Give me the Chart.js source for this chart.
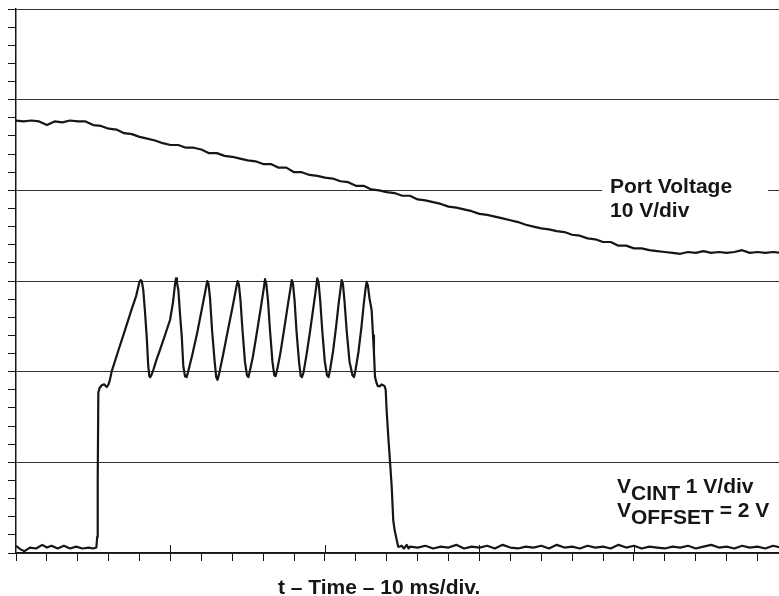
<!DOCTYPE html>
<html><head><meta charset="utf-8">
<script src="https://cdn.jsdelivr.net/npm/chart.js@4"></script>
<style>html,body{margin:0;padding:0;background:#fff}canvas{display:block}</style>
</head><body>
<canvas id="c" width="779" height="596"></canvas>
<script>
// time in ms (10 ms/div), values in screen divisions (0 = bottom graticule line)
const portTimes = [0,0.5,1,1.5,2,2.5,3,3.5,4,4.5,5,5.5,6,6.5,7,7.5,8,8.5,9,9.5,10,10.5,11,11.5,12,12.5,13,13.5,14,14.5,15,15.5,16,16.5,17,17.5,18,18.5,19,19.5,20,20.5,21,21.5,22,22.5,23,23.5,24,24.5,25,25.5,26,26.5,27,27.5,28,28.5,29,29.5,30,30.5,31,31.5,32,32.5,33,33.5,34,34.5,35,35.5,36,36.5,37,37.5,38,38.5,39,39.5,40,40.5,41,41.5,42,42.5,43,43.5,44,44.5,45,45.5,46,46.5,47,47.5,48,48.5,49,49.5];
const portValues = [4.77,4.76,4.77,4.76,4.72,4.76,4.75,4.77,4.76,4.76,4.72,4.71,4.68,4.67,4.63,4.62,4.59,4.57,4.55,4.52,4.50,4.50,4.47,4.47,4.45,4.41,4.41,4.38,4.37,4.35,4.33,4.32,4.29,4.29,4.25,4.25,4.20,4.20,4.17,4.16,4.14,4.13,4.10,4.09,4.05,4.05,4.01,4.00,3.98,3.97,3.94,3.94,3.90,3.89,3.87,3.85,3.82,3.81,3.79,3.77,3.74,3.73,3.71,3.69,3.67,3.65,3.62,3.60,3.58,3.57,3.55,3.54,3.51,3.50,3.47,3.46,3.43,3.43,3.39,3.39,3.36,3.36,3.34,3.33,3.32,3.31,3.30,3.32,3.31,3.33,3.31,3.32,3.31,3.32,3.34,3.31,3.32,3.31,3.32,3.31];

const cintTimes = [0.00,0.30,0.55,0.90,1.30,1.70,2.00,2.30,2.70,3.10,3.50,3.90,4.30,4.70,5.00,5.20,5.26,5.29,5.33,5.41,5.55,5.70,5.87,5.99,6.08,6.19,6.60,7.06,7.51,7.77,7.99,8.07,8.14,8.24,8.35,8.46,8.56,8.63,8.69,8.76,8.89,9.09,9.32,9.64,9.97,10.16,10.29,10.36,10.42,10.51,10.62,10.73,10.83,10.94,11.04,11.13,11.39,11.72,12.04,12.27,12.38,12.46,12.56,12.69,12.85,12.96,13.04,13.14,13.40,13.72,14.05,14.26,14.35,14.43,14.53,14.66,14.82,14.95,15.04,15.13,15.34,15.60,15.86,16.04,16.12,16.20,16.31,16.44,16.60,16.72,16.80,16.89,17.09,17.35,17.61,17.77,17.85,17.93,18.03,18.16,18.32,18.43,18.51,18.61,18.80,19.03,19.26,19.43,19.50,19.59,19.69,19.83,19.99,20.13,20.23,20.32,20.52,20.71,20.89,21.02,21.08,21.16,21.26,21.41,21.59,21.78,21.88,21.97,22.17,22.36,22.52,22.63,22.70,22.78,22.88,23.02,23.11,23.17,23.24,23.35,23.43,23.56,23.66,23.77,23.86,23.93,23.99,24.10,24.21,24.32,24.42,24.51,24.60,24.74,24.85,24.96,25.11,25.29,25.41,25.50,26.0,26.5,27.0,27.5,28.0,28.5,29.0,29.5,30.0,30.5,31.0,31.5,32.0,32.5,33.0,33.5,34.0,34.5,35.0,35.5,36.0,36.5,37.0,37.5,38.0,38.5,39.0,39.5,40.0,40.5,41.0,41.5,42.0,42.5,43.0,43.5,44.0,44.5,45.0,45.5,46.0,46.5,47.0,47.5,48.0,48.5,49.0,49.5];
const cintValues = [0.08,0.04,0.02,0.06,0.05,0.09,0.06,0.08,0.05,0.08,0.05,0.07,0.05,0.06,0.05,0.06,0.18,0.81,1.77,1.82,1.85,1.86,1.83,1.86,1.91,2.00,2.22,2.46,2.70,2.83,2.99,3.01,3.00,2.90,2.66,2.39,2.06,1.95,1.94,1.96,2.02,2.13,2.24,2.40,2.57,2.76,2.96,3.03,2.98,2.90,2.63,2.39,2.06,1.95,1.94,1.99,2.17,2.42,2.70,2.90,3.00,2.97,2.81,2.46,2.13,1.94,1.91,1.97,2.18,2.46,2.74,2.93,3.00,2.96,2.79,2.46,2.11,1.96,1.94,2.00,2.17,2.44,2.72,2.92,3.02,2.97,2.79,2.46,2.11,1.96,1.95,2.01,2.18,2.46,2.75,2.92,3.01,2.97,2.79,2.44,2.11,1.95,1.94,1.99,2.18,2.44,2.72,2.93,3.03,2.98,2.79,2.44,2.11,1.96,1.94,2.01,2.22,2.48,2.76,2.93,3.01,2.97,2.79,2.44,2.11,1.96,1.94,2.01,2.22,2.49,2.76,2.92,2.99,2.95,2.81,2.68,2.40,2.21,1.94,1.87,1.84,1.84,1.86,1.85,1.84,1.80,1.58,1.28,1.01,0.73,0.36,0.25,0.18,0.07,0.07,0.08,0.05,0.09,0.05,0.07,0.06,0.08,0.05,0.07,0.06,0.09,0.05,0.07,0.06,0.08,0.05,0.09,0.06,0.05,0.07,0.06,0.08,0.05,0.09,0.06,0.07,0.05,0.08,0.06,0.07,0.05,0.09,0.06,0.08,0.05,0.07,0.06,0.05,0.07,0.06,0.08,0.05,0.07,0.09,0.06,0.07,0.05,0.08,0.06,0.07,0.05,0.08,0.06];

const xMajorTicks = [10, 20, 30, 40];
const portLabel = ['Port Voltage', '10 V/div'];
const cintLabel = [['V', 'CINT', ' 1 V/div'], ['V', 'OFFSET', ' = 2 V']];
const xTitle = 't \u2013 Time \u2013 10 ms/div.';

const toPoints = (ts, vs) => ts.map((t, i) => ({x: t, y: vs[i]}));
const INK = '#161616';
const FONT = 'bold 21px "Liberation Sans", Arial, sans-serif';

const annot = {
  id: 'annot',
  afterDraw(chart) {
    const ctx = chart.ctx, xs = chart.scales.x, ys = chart.scales.y, ca = chart.chartArea;
    ctx.save();
    // inward extension of major time ticks
    ctx.strokeStyle = INK; ctx.lineWidth = 1;
    xMajorTicks.forEach(v => {
      const px = Math.round(xs.getPixelForValue(v)) + 0.5;
      ctx.beginPath(); ctx.moveTo(px, ca.bottom - 8); ctx.lineTo(px, ca.bottom); ctx.stroke();
    });
    // Port voltage label with blanked graticule
    const gy = ys.getPixelForValue(4);
    ctx.fillStyle = '#fff';
    ctx.fillRect(602, gy - 12, 166, 40);
    ctx.fillStyle = INK; ctx.font = FONT; ctx.textBaseline = 'alphabetic'; ctx.textAlign = 'left';
    ctx.fillText(portLabel[0], 610, 193);
    ctx.fillText(portLabel[1], 610, 217);
    // VCINT label
    const bases = [493, 517];
    cintLabel.forEach((parts, i) => {
      let x = 617;
      ctx.fillText(parts[0], x, bases[i]); x += ctx.measureText(parts[0]).width;
      ctx.fillText(parts[1], x, bases[i] + 7); x += ctx.measureText(parts[1]).width;
      ctx.fillText(parts[2], x, bases[i]);
    });
    // axis title
    ctx.fillText(xTitle, 278, 594);
    ctx.restore();
  }
};

new Chart(document.getElementById('c'), {
  type: 'line',
  data: {
    datasets: [
      {label: 'Port Voltage', data: toPoints(portTimes, portValues)},
      {label: 'VCINT', data: toPoints(cintTimes, cintValues)}
    ]
  },
  options: {
    responsive: false,
    animation: false,
    devicePixelRatio: 1,
    parsing: false,
    layout: {padding: {left: 8, top: 9, right: 0, bottom: 35}},
    elements: {
      point: {radius: 0, hoverRadius: 0},
      line: {borderColor: INK, borderWidth: 2.2, tension: 0, fill: false, borderJoinStyle: 'round'}
    },
    plugins: {legend: {display: false}, tooltip: {enabled: false}},
    scales: {
      x: {
        type: 'linear', min: 0, max: 49.39,
        ticks: {display: false, stepSize: 2, includeBounds: false},
        grid: {drawOnChartArea: false, drawTicks: true, tickLength: 8, tickColor: INK, lineWidth: 1},
        border: {display: true, color: INK, width: 1.5}
      },
      y: {
        type: 'linear', min: 0, max: 6,
        ticks: {display: false, stepSize: 0.2},
        grid: {
          drawTicks: true, tickLength: 8, lineWidth: 1,
          tickColor: INK,
          color: (c) => (c.tick && Math.abs(c.tick.value - Math.round(c.tick.value)) < 1e-6) ? '#333333' : 'rgba(0,0,0,0)'
        },
        border: {display: true, color: INK, width: 1.5}
      }
    }
  },
  plugins: [annot]
});
</script>
</body></html>
